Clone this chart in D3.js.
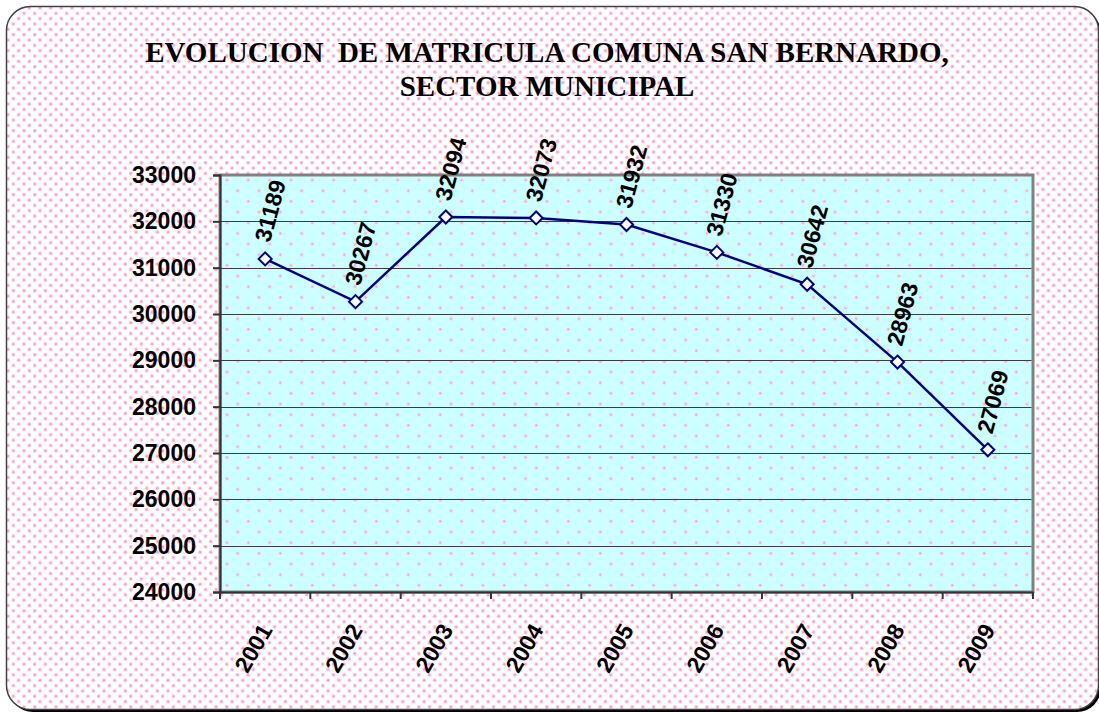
<!DOCTYPE html>
<html>
<head>
<meta charset="utf-8">
<script src="https://cdn.jsdelivr.net/npm/d3@7"></script>
<style>
  body { margin: 0; background: #ffffff; }
  svg { display: block; }
  text { white-space: pre; }
</style>
</head>
<body>
<section id="lineChart"></section>
<script>
        // datos
        var years = ["2001", "2002", "2003", "2004", "2005", "2006", "2007", "2008", "2009"];
        var matricula = [31189, 30267, 32094, 32073, 31932, 31330, 30642, 28963, 27069];
        var yTicks = [24000, 25000, 26000, 27000, 28000, 29000, 30000, 31000, 32000, 33000];
        var titleLines = ["EVOLUCION  DE MATRICULA COMUNA SAN BERNARDO,", "SECTOR MUNICIPAL"];

        var width = 1099, height = 712;
        var plot = { left: 220, top: 175, right: 1033, bottom: 592 };

        var svg = d3.select("section#lineChart")
            .append("svg")
            .attr("width", width)
            .attr("height", height);

        var defs = svg.append("defs");

        // pink dotted fill for the chart area
        var outerPat = defs.append("pattern")
            .attr("id", "dotsOuter")
            .attr("patternUnits", "userSpaceOnUse")
            .attr("width", 10.67)
            .attr("height", 10.67);
        outerPat.append("rect").attr("width", 10.67).attr("height", 10.67).attr("fill", "#ffffff");
        [[2.7, 2.7], [8, 8]].forEach(function(p) {
            outerPat.append("circle").attr("cx", p[0]).attr("cy", p[1]).attr("r", 1.9).attr("fill", "#ffc4e2");
            outerPat.append("circle").attr("cx", p[0]).attr("cy", p[1]).attr("r", 1).attr("fill", "#ff8cc6");
        });

        // cyan plot area with sparser dots
        var innerPat = defs.append("pattern")
            .attr("id", "dotsInner")
            .attr("patternUnits", "userSpaceOnUse")
            .attr("width", 21.33)
            .attr("height", 21.33)
            .attr("x", plot.left)
            .attr("y", plot.top);
        innerPat.append("rect").attr("width", 21.33).attr("height", 21.33).attr("fill", "#ccffff");
        [[7, 5], [17.7, 15.7]].forEach(function(p) {
            innerPat.append("circle").attr("cx", p[0]).attr("cy", p[1]).attr("r", 1.9).attr("fill", "#f4d4ec");
            innerPat.append("circle").attr("cx", p[0]).attr("cy", p[1]).attr("r", 1).attr("fill", "#ff9acb");
        });

        // frame + shadow
        svg.append("rect")
            .attr("x", 9).attr("y", 9)
            .attr("width", 1092).attr("height", 703)
            .attr("rx", 24)
            .attr("fill", "#000000");
        svg.append("rect")
            .attr("x", 6.5).attr("y", 6.5)
            .attr("width", 1092).attr("height", 703)
            .attr("rx", 24)
            .attr("fill", "url(#dotsOuter)")
            .attr("stroke", "#404040")
            .attr("stroke-width", 1.5);

        // title
        svg.append("g")
            .selectAll("text")
            .data(titleLines)
            .enter()
            .append("text")
            .attr("x", 547)
            .attr("y", function(d, i) { return 62 + i * 34; })
            .attr("text-anchor", "middle")
            .attr("font-family", "'Liberation Serif', 'Times New Roman', serif")
            .attr("font-weight", "bold")
            .attr("font-size", 29)
            .text(function(d) { return d; });

        var x = d3.scaleBand()
            .domain(years)
            .range([plot.left, plot.right]);

        var y = d3.scaleLinear()
            .domain([d3.min(yTicks), d3.max(yTicks)])
            .range([plot.bottom, plot.top]);

        // plot area
        svg.append("rect")
            .attr("x", plot.left)
            .attr("y", plot.top)
            .attr("width", plot.right - plot.left)
            .attr("height", plot.bottom - plot.top)
            .attr("fill", "url(#dotsInner)")
            .attr("stroke", "#808080")
            .attr("stroke-width", 3);

        // gridlines
        svg.append("g")
            .selectAll("line")
            .data(yTicks.slice(1, -1))
            .enter()
            .append("line")
            .attr("x1", plot.left)
            .attr("x2", plot.right - 1.5)
            .attr("y1", function(d) { return Math.round(y(d)) + 0.5; })
            .attr("y2", function(d) { return Math.round(y(d)) + 0.5; })
            .attr("stroke", "#3c3c3c")
            .attr("stroke-width", 1);

        // y axis
        var yAxis = svg.append("g")
            .attr("transform", "translate(" + plot.left + ",0)")
            .call(d3.axisLeft(y).tickValues(yTicks).tickSize(7).tickPadding(17).tickFormat(d3.format("d")));
        yAxis.selectAll("path, line").attr("stroke", "#333333").attr("stroke-width", 2);
        yAxis.selectAll("text")
            .attr("font-family", "'Liberation Sans', Arial, sans-serif")
            .attr("font-weight", "bold")
            .attr("font-size", 23)
            .attr("fill", "#000000");

        // x axis
        var xAxis = svg.append("g")
            .attr("transform", "translate(0," + plot.bottom + ")")
            .call(d3.axisBottom(x).tickSize(0).tickFormat(""));
        xAxis.select("path").attr("stroke", "#333333").attr("stroke-width", 2);
        xAxis.selectAll(".sep")
            .data(years.concat(["end"]))
            .enter()
            .append("line")
            .attr("class", "sep")
            .attr("x1", function(d, i) { return plot.left + i * x.step(); })
            .attr("x2", function(d, i) { return plot.left + i * x.step(); })
            .attr("y1", 0)
            .attr("y2", 7)
            .attr("stroke", "#333333")
            .attr("stroke-width", 2);

        svg.append("g")
            .selectAll("text")
            .data(years)
            .enter()
            .append("text")
            .attr("transform", function(d) {
                return "translate(" + (x(d) + x.bandwidth() / 2 + 1) + ",626) rotate(-60)";
            })
            .attr("dy", "0.35em")
            .attr("text-anchor", "end")
            .attr("font-family", "'Liberation Sans', Arial, sans-serif")
            .attr("font-weight", "bold")
            .attr("font-size", 23)
            .text(function(d) { return d; });

        // line
        var line = d3.line()
            .x(function(d, i) { return x(years[i]) + x.bandwidth() / 2; })
            .y(function(d) { return y(d); });

        svg.append("path")
            .datum(matricula)
            .attr("d", line)
            .attr("fill", "none")
            .attr("stroke", "#000080")
            .attr("stroke-width", 2.5);

        // markers
        svg.append("g")
            .selectAll("path")
            .data(matricula)
            .enter()
            .append("path")
            .attr("d", "M0,-6.5L6.5,0L0,6.5L-6.5,0Z")
            .attr("transform", function(d, i) {
                return "translate(" + (x(years[i]) + x.bandwidth() / 2) + "," + y(d) + ")";
            })
            .attr("fill", "#ffffff")
            .attr("stroke", "#000080")
            .attr("stroke-width", 2);

        // value labels
        svg.append("g")
            .selectAll("text")
            .data(matricula)
            .enter()
            .append("text")
            .attr("transform", function(d, i) {
                return "translate(" + (x(years[i]) + x.bandwidth() / 2 + 5) + "," + (y(d) - 48) + ") rotate(-75)";
            })
            .attr("dy", "0.35em")
            .attr("text-anchor", "middle")
            .attr("font-family", "'Liberation Sans', Arial, sans-serif")
            .attr("font-weight", "bold")
            .attr("font-size", 23)
            .text(function(d) { return d; });
</script>
</body>
</html>
